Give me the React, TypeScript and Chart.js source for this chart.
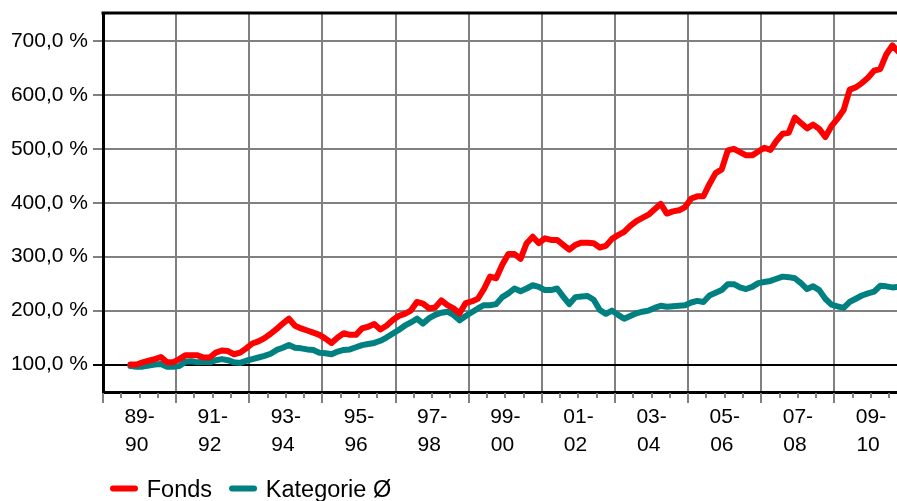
import React, { useEffect, useRef } from "react";
import { Chart, registerables } from "chart.js";

Chart.register(...registerables);

// Month stamps (every two months) of the plotted points
const dates = [
  "1989-10", "1989-12",
  "1990-02", "1990-04", "1990-06", "1990-08", "1990-10", "1990-12",
  "1991-02", "1991-04", "1991-06", "1991-08", "1991-10", "1991-12",
  "1992-02", "1992-04", "1992-06", "1992-08", "1992-10", "1992-12",
  "1993-02", "1993-04", "1993-06", "1993-08", "1993-10", "1993-12",
  "1994-02", "1994-04", "1994-06", "1994-08", "1994-10", "1994-12",
  "1995-02", "1995-04", "1995-06", "1995-08", "1995-10", "1995-12",
  "1996-02", "1996-04", "1996-06", "1996-08", "1996-10", "1996-12",
  "1997-02", "1997-04", "1997-06", "1997-08", "1997-10", "1997-12",
  "1998-02", "1998-04", "1998-06", "1998-08", "1998-10", "1998-12",
  "1999-02", "1999-04", "1999-06", "1999-08", "1999-10", "1999-12",
  "2000-02", "2000-04", "2000-06", "2000-08", "2000-10", "2000-12",
  "2001-02", "2001-04", "2001-06", "2001-08", "2001-10", "2001-12",
  "2002-02", "2002-04", "2002-06", "2002-08", "2002-10", "2002-12",
  "2003-02", "2003-04", "2003-06", "2003-08", "2003-10", "2003-12",
  "2004-02", "2004-04", "2004-06", "2004-08", "2004-10", "2004-12",
  "2005-02", "2005-04", "2005-06", "2005-08", "2005-10", "2005-12",
  "2006-02", "2006-04", "2006-06", "2006-08", "2006-10", "2006-12",
  "2007-02", "2007-04", "2007-06", "2007-08", "2007-10", "2007-12",
  "2008-02", "2008-04", "2008-06", "2008-08", "2008-10", "2008-12",
  "2009-02", "2009-04", "2009-06", "2009-08", "2009-10", "2009-12",
  "2010-02", "2010-04", "2010-06", "2010-08", "2010-10",
];

const fonds = [
  100, 100,
  104, 107, 110, 114, 104, 104,
  110, 117, 117, 117, 113, 113,
  122, 126, 125, 119, 122, 130,
  139, 143, 149, 157, 166, 176,
  185, 172, 167, 163, 159, 155,
  148, 140, 150, 158, 155, 155,
  167, 170, 175, 165, 172, 182,
  190, 194, 200, 216, 213, 204,
  206, 219, 210, 204, 195, 214,
  217, 222, 240, 263, 260, 285,
  305, 305, 296, 325, 337, 325,
  334, 331, 331, 322, 313, 322,
  326, 326, 325, 317, 320, 333,
  340, 346, 357, 366, 372, 378,
  388, 398, 380, 384, 386, 392,
  408, 412, 412, 435, 455, 462,
  497, 500, 494, 488, 488, 495,
  502, 498, 515, 528, 530, 558,
  548, 538, 545, 537, 522, 542,
  556, 572, 610, 614, 622, 632,
  645, 648, 675, 692, 680,
];

const kategorie = [
  97, 96,
  96, 98, 100, 101, 96, 96,
  97, 105, 106, 104, 105, 104,
  108, 110, 108, 104, 103, 107,
  110, 113, 116, 120, 127, 131,
  136, 131, 130, 128, 127, 122,
  121, 119, 124, 127, 128, 132,
  136, 138, 140, 144, 150, 157,
  164, 172, 178, 185, 176, 186,
  192, 196, 198, 192, 182, 190,
  197, 204, 210, 210, 212, 225,
  232, 241, 236, 241, 247, 244,
  238, 238, 241, 226, 212, 225,
  226, 227, 220, 201, 194, 200,
  192, 185, 190, 195, 198, 200,
  205, 209, 207, 208, 209, 210,
  215, 218, 216, 228, 233, 238,
  249, 249, 243, 240, 244, 251,
  253, 255, 259, 263, 262, 260,
  251, 240, 245, 238, 222, 211,
  208, 205, 216, 222, 228, 232,
  235, 246, 245, 243, 244,
];

const seriesNames = ["Fonds", "Kategorie Ø"];
const seriesColors = ["#ff0000", "#008080"];

const yTickValues = [100, 200, 300, 400, 500, 600, 700];
const xLabelYears = [1990, 1992, 1994, 1996, 1998, 2000, 2002, 2004, 2006, 2008, 2010];
const xTickLabels = [
  ["89-", "90 "], ["91-", "92 "], ["93-", "94 "], ["95-", "96 "], ["97-", "98 "],
  ["99-", "00 "], ["01-", "02 "], ["03-", "04 "], ["05-", "06 "], ["07-", "08 "],
  ["09-", "10 "],
];

const X_MIN = 1989;
const X_MAX = 2010.71;
const Y_MIN = 49;
const Y_MAX = 752;

const FONT = "Arial, 'Liberation Sans', sans-serif";
const GRID = "#808080";

const toYear = (d: string) => {
  const [y, m] = d.split("-").map(Number);
  return y + (m - 1) / 12;
};

const isOddYear = (v: number) => {
  const r = Math.round(v);
  return Math.abs(v - r) < 1e-6 && Math.abs(r % 2) === 1;
};

const decorPlugin = {
  id: "decor",
  afterDraw(chart: any) {
    const { ctx, chartArea } = chart;
    const xs = chart.scales.x;
    ctx.save();
    // top frame line
    ctx.strokeStyle = "#000";
    ctx.lineWidth = 3;
    ctx.beginPath();
    ctx.moveTo(chartArea.left - 1.5, chartArea.top);
    ctx.lineTo(chartArea.right, chartArea.top);
    ctx.stroke();
    // x tick marks (long at grid lines, short at half years)
    ctx.strokeStyle = GRID;
    ctx.lineWidth = 2;
    xs.ticks.forEach((t: any) => {
      const px = Math.round(xs.getPixelForValue(t.value));
      const len = isOddYear(t.value) ? 11 : 6;
      ctx.beginPath();
      ctx.moveTo(px, chartArea.bottom + 1);
      ctx.lineTo(px, chartArea.bottom + len);
      ctx.stroke();
    });
    // legend
    const fontSize = 23.5;
    ctx.font = `${fontSize}px ${FONT}`;
    ctx.textBaseline = "alphabetic";
    ctx.textAlign = "left";
    const cy = chart.height - 12.5;
    let lx = chartArea.left + 10;
    chart.data.datasets.forEach((ds: any) => {
      ctx.strokeStyle = ds.borderColor;
      ctx.lineWidth = 6;
      ctx.lineCap = "round";
      ctx.beginPath();
      ctx.moveTo(lx, cy);
      ctx.lineTo(lx + 22, cy);
      ctx.stroke();
      const tx = lx + 22 + fontSize / 2;
      ctx.fillStyle = "#000";
      ctx.fillText(ds.label, tx, cy + 8.4);
      lx = tx + ctx.measureText(ds.label).width + 20;
    });
    ctx.restore();
  },
};

export default function App() {
  const ref = useRef<HTMLCanvasElement>(null);

  useEffect(() => {
    const xs = dates.map(toYear);
    const chart = new Chart(ref.current as HTMLCanvasElement, {
      type: "line",
      data: {
        datasets: [fonds, kategorie].map((vals, i) => ({
          label: seriesNames[i],
          data: vals.map((v, j) => ({ x: xs[j], y: v })),
          borderColor: seriesColors[i],
          backgroundColor: seriesColors[i],
          borderWidth: 6,
          borderCapStyle: "round",
          borderJoinStyle: "round",
          pointRadius: 0,
          tension: 0,
          fill: false,
        })),
      },
      options: {
        responsive: false,
        animation: false,
        layout: { padding: { top: 13, left: 0, right: 0, bottom: 0 } },
        plugins: {
          legend: { display: false },
          tooltip: { enabled: false },
        },
        scales: {
          x: {
            type: "linear",
            min: X_MIN,
            max: X_MAX,
            afterBuildTicks: (scale: any) => {
              const t: { value: number }[] = [];
              for (let v = X_MIN; v <= X_MAX; v += 0.5) t.push({ value: v });
              scale.ticks = t;
            },
            afterFit: (scale: any) => {
              scale.height = 109;
              scale.paddingLeft = 0;
              scale.paddingRight = 0;
            },
            grid: {
              color: (c: any) => (c.tick && isOddYear(c.tick.value) ? GRID : "rgba(0,0,0,0)"),
              lineWidth: 2,
              drawTicks: true,
              tickLength: 10,
              tickColor: "rgba(0,0,0,0)",
            },
            border: { color: "#000", width: 3 },
            ticks: {
              autoSkip: false,
              maxRotation: 0,
              minRotation: 0,
              padding: 1,
              color: "#000",
              font: { family: FONT, size: 21, lineHeight: 1.35 },
              callback: (v: any) => {
                const idx = xLabelYears.findIndex((y) => Math.abs(y - Number(v)) < 1e-6);
                return idx >= 0 ? xTickLabels[idx] : "";
              },
            },
          },
          y: {
            type: "linear",
            min: Y_MIN,
            max: Y_MAX,
            afterBuildTicks: (scale: any) => {
              scale.ticks = yTickValues.map((v) => ({ value: v }));
            },
            afterFit: (scale: any) => {
              scale.width = 103;
              scale.paddingTop = 0;
              scale.paddingBottom = 0;
            },
            grid: {
              color: (c: any) => (c.tick && c.tick.value === 100 ? "#000" : GRID),
              lineWidth: 2,
              tickLength: 10,
            },
            border: { color: "#000", width: 3 },
            ticks: {
              padding: 5,
              color: "#000",
              font: { family: FONT, size: 21 },
              callback: (v: any) => Number(v).toFixed(1).replace(".", ",") + " %",
            },
          },
        },
      },
      plugins: [decorPlugin],
    } as any);
    return () => chart.destroy();
  }, []);

  return (
    <div style={{ position: "absolute", left: 0, top: 0, width: 897, height: 501, background: "#fff" }}>
      <canvas ref={ref} width={897} height={501} style={{ display: "block" }} />
    </div>
  );
}
